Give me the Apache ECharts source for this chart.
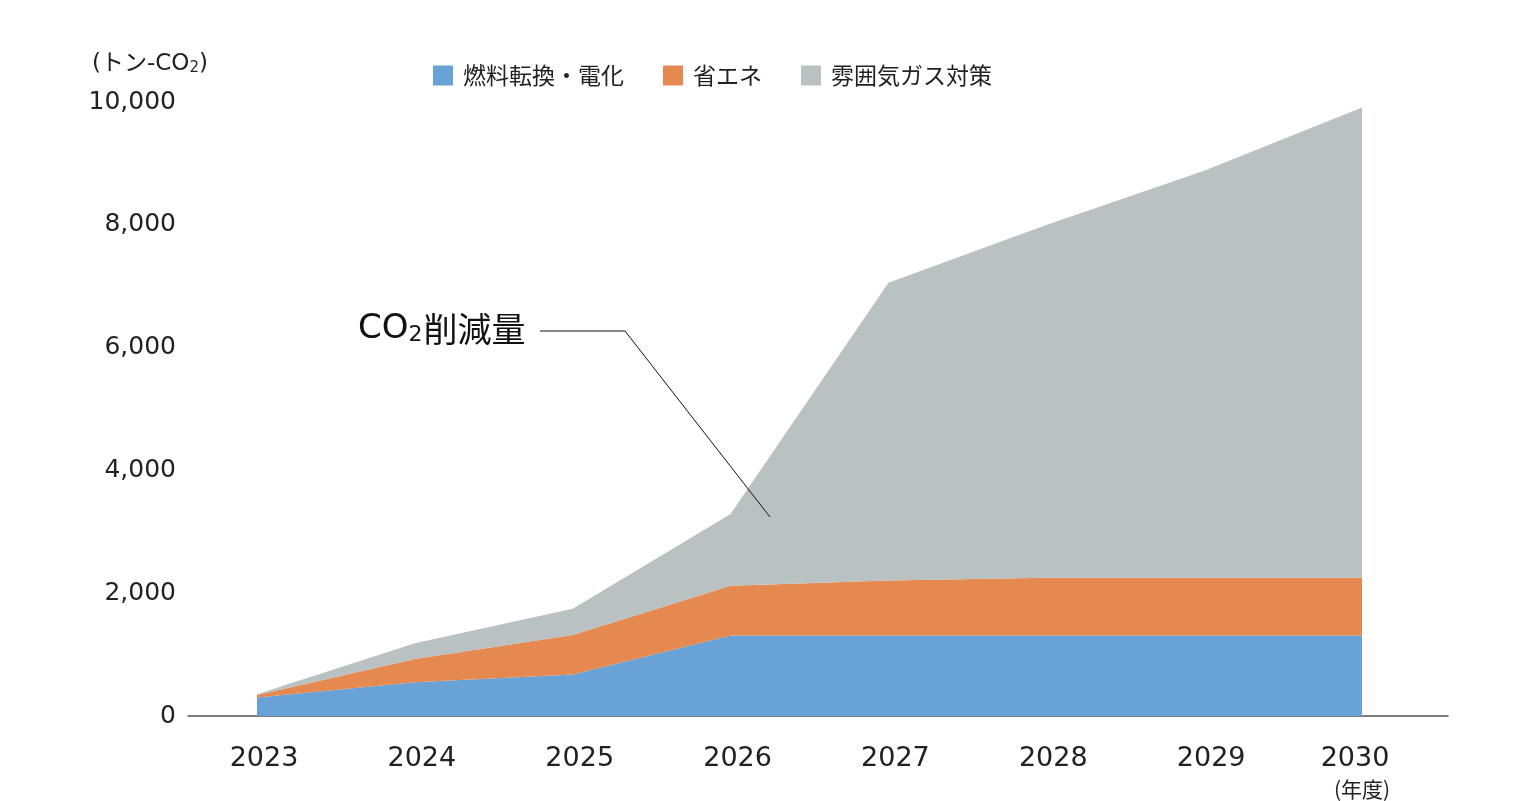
<!DOCTYPE html>
<html>
<head>
<meta charset="utf-8">
<script src="https://cdn.jsdelivr.net/npm/echarts@6/dist/echarts.min.js"></script>
<style>
  html, body { margin: 0; padding: 0; background: #fff; }
  #chart { width: 1533px; height: 801px; }
</style>
</head>
<body>
<div id="chart"></div>
<script>
const years = ['2023', '2024', '2025', '2026', '2027', '2028', '2029', '2030'];
const fuelSwitch = [300, 550, 675, 1310, 1310, 1310, 1310, 1310];
const energySaving = [40, 380, 645, 810, 895, 940, 942, 942];
const atmosphericGas = [15, 255, 425, 1170, 4850, 5745, 6630, 7660];
const yTicks = { min: 0, max: 10000, interval: 2000 };

const FONT = '"DejaVu Sans", "Noto Sans CJK JP", sans-serif';
const JP = '"Noto Sans CJK JP", sans-serif';
const INK = '#222';

const chart = echarts.init(document.getElementById('chart'), null, { renderer: 'canvas' });

function areaSeries(name, color, data) {
  return {
    name,
    type: 'line',
    stack: 'total',
    data,
    xAxisIndex: 0,
    yAxisIndex: 0,
    symbol: 'none',
    smooth: false,
    lineStyle: { width: 0, color },
    itemStyle: { color },
    areaStyle: { color, opacity: 1 },
    emphasis: { disabled: true }
  };
}

const option = {
  backgroundColor: '#fff',
  animation: false,
  textStyle: { fontFamily: FONT },
  title: {
    text: '(トン-CO{s|2})',
    left: 87,
    top: 48,
    textStyle: {
      fontFamily: FONT,
      fontSize: 23,
      fontWeight: 'normal',
      color: INK,
      rich: { s: { fontSize: 15, verticalAlign: 'bottom', padding: [8, 0, 0, 0], color: INK, fontFamily: FONT } }
    }
  },
  legend: {
    left: 428,
    top: 59,
    icon: 'rect',
    itemWidth: 20,
    itemHeight: 20,
    itemGap: 39,
    textStyle: { fontFamily: JP, fontSize: 23, color: INK, padding: [0, 0, 0, 5] },
    data: ['燃料転換・電化', '省エネ', '雰囲気ガス対策']
  },
  grid: [
    { left: 257, right: 171, top: 102, bottom: 85, containLabel: false, outerBoundsMode: 'none' },
    { left: 188, right: 85, top: 102, bottom: 85, containLabel: false, outerBoundsMode: 'none' }
  ],
  xAxis: [
    {
      type: 'category',
      gridIndex: 0,
      data: years,
      boundaryGap: false,
      axisLine: { show: false },
      axisTick: { show: false },
      splitLine: { show: false },
      axisLabel: {
        interval: 0,
        hideOverlap: false,
        margin: 28,
        color: INK,
        fontFamily: FONT,
        fontSize: 27,
        lineHeight: 30,
        formatter: (v) => (v === '2030' ? '{e|' + v + '}\n{u|(年度)}' : '{a|' + v + '}'),
        rich: {
          a: { fontSize: 27, lineHeight: 30, padding: [0, 0, 0, 14], color: INK, fontFamily: FONT },
          e: { fontSize: 27, lineHeight: 30, padding: [0, 14, 0, 0], color: INK, fontFamily: FONT },
          u: { fontSize: 21, lineHeight: 30, color: INK, fontFamily: JP }
        }
      }
    },
    {
      type: 'value',
      gridIndex: 1,
      min: 0,
      max: 1,
      axisLine: { show: true, onZero: false, lineStyle: { color: '#555', width: 1.5 } },
      axisTick: { show: false },
      axisLabel: { show: false },
      splitLine: { show: false }
    }
  ],
  yAxis: [
    {
      type: 'value',
      gridIndex: 0,
      min: yTicks.min,
      max: yTicks.max,
      interval: yTicks.interval,
      show: false
    },
    {
      type: 'value',
      gridIndex: 1,
      min: yTicks.min,
      max: yTicks.max,
      interval: yTicks.interval,
      axisLine: { show: false },
      axisTick: { show: false },
      splitLine: { show: false },
      axisLabel: {
        margin: 12,
        color: INK,
        fontFamily: FONT,
        fontSize: 25,
        padding: [3, 0, 0, 0],
        formatter: (v) => v.toLocaleString('en-US')
      }
    }
  ],
  series: [
    areaSeries('燃料転換・電化', '#68a2d7', fuelSwitch),
    areaSeries('省エネ', '#e68951', energySaving),
    areaSeries('雰囲気ガス対策', '#bac1c3', atmosphericGas)
  ],
  graphic: [
    {
      type: 'text',
      left: 358,
      top: 312,
      z: 10,
      style: {
        text: 'CO{s|2}{j|削減量}',
        fontFamily: FONT,
        fontSize: 34,
        fill: '#111',
        rich: {
          s: { fontSize: 22, verticalAlign: 'bottom', padding: [12, 1, 0, 0], fontFamily: FONT, fill: '#111' },
          j: { fontSize: 34, fontFamily: JP, fill: '#111' }
        }
      }
    },
    {
      type: 'polyline',
      z: 10,
      shape: { points: [[540, 331], [625, 331], [770, 517]] },
      style: { stroke: '#111', lineWidth: 1, fill: null }
    }
  ]
};

chart.setOption(option);
</script>
</body>
</html>
